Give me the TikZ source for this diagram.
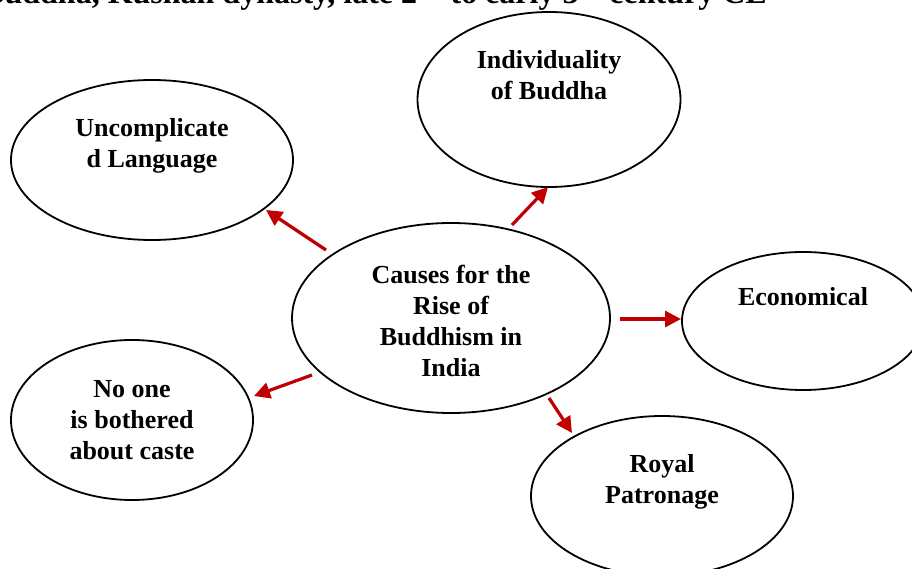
\documentclass[tikz,border=0pt]{standalone}
\usepackage{fontspec}
\setmainfont{Liberation Serif}
\usetikzlibrary{arrows.meta,shapes.geometric}
\definecolor{arrred}{HTML}{C00000}
\begin{document}
\begin{tikzpicture}[x=1pt,y=-1pt,
  bubble/.style={draw, line width=1.8pt, ellipse, inner sep=0pt},
  lbl/.style={font=\fontsize{26}{31}\selectfont\bfseries, align=center, inner sep=0pt, anchor=base},
  link/.style={draw=arrred, line width=3.2pt, -{Triangle[length=16pt,width=16pt]}}]
\useasboundingbox (0,0) rectangle (912,569);
\clip (0,0) rectangle (912,569);
% title (cut off at top)
\node[font=\fontsize{32}{36}\selectfont\bfseries, inner sep=0pt, anchor=base east] (title) at (767,4)
  {Buddha, Kushan dynasty, late 2\textsuperscript{nd} to early 3\textsuperscript{rd} century CE};
% ellipses
\node[bubble, minimum width=282pt, minimum height=160pt] (unc) at (152,160) {};
\node[bubble, minimum width=263pt, minimum height=175pt] (ind) at (549,99.5) {};
\node[bubble, minimum width=318pt, minimum height=190pt] (cen) at (451,318) {};
\node[bubble, minimum width=242pt, minimum height=138pt] (eco) at (803,321) {};
\node[bubble, minimum width=242pt, minimum height=160pt] (non) at (132,420) {};
\node[bubble, minimum width=262pt, minimum height=160pt] (roy) at (662,496) {};
% labels (anchor = baseline of the last line)
\node[lbl] (tunc) at (152,168) {Uncomplicate\\d Language};
\node[lbl] (tind) at (549,100) {Individuality\\of Buddha};
\node[lbl] (tcen) at (451,376) {Causes for the\\Rise of\\Buddhism in\\India};
\node[lbl] (teco) at (803,305) {Economical};
\node[lbl] (tnon) at (132,459) {No one\\is bothered\\about caste};
\node[lbl] (troy) at (662,503) {Royal\\Patronage};
% arrow end points
\coordinate (s1) at (326,250); \coordinate (e1) at (266,210);
\coordinate (s2) at (512,225); \coordinate (e2) at (548,187);
\coordinate (s3) at (620,319); \coordinate (e3) at (681,319);
\coordinate (s4) at (312,375); \coordinate (e4) at (254,396);
\coordinate (s5) at (549,398); \coordinate (e5) at (572,433);
\draw[link] (s1) -- (e1);
\draw[link] (s2) -- (e2);
\draw[link] (s3) -- (e3);
\draw[link] (s4) -- (e4);
\draw[link] (s5) -- (e5);
\end{tikzpicture}
\end{document}
